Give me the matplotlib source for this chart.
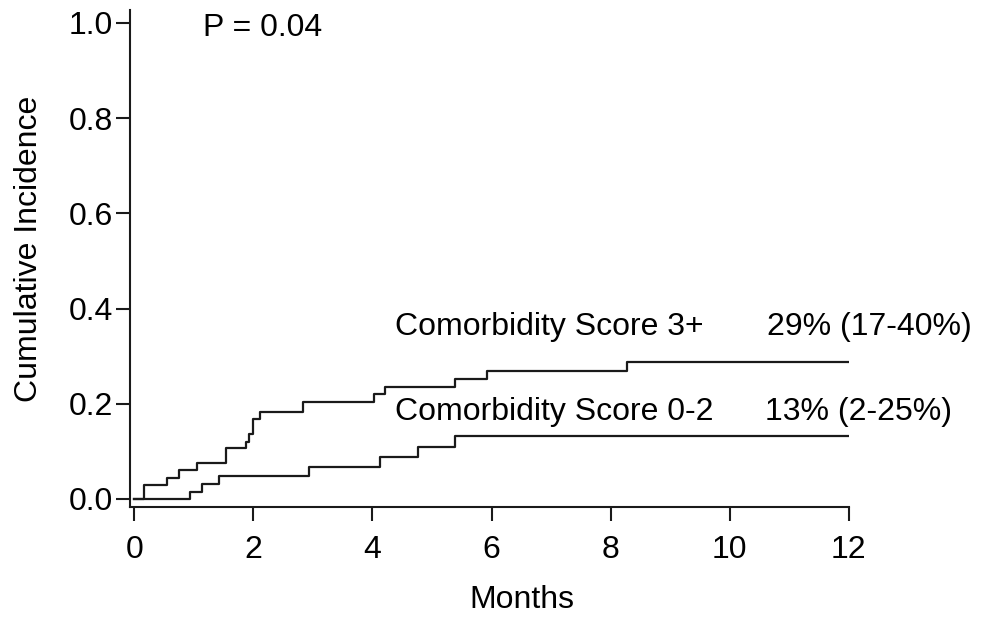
import matplotlib.pyplot as plt

plt.rcParams['font.family'] = ['Liberation Sans', 'DejaVu Sans']

# Comorbidity score 3+ : step times (months) and cumulative incidence
t_high = [0.0, 0.17, 0.55, 0.76, 1.05, 1.54, 1.87, 1.92, 1.99, 2.11, 2.84,
          4.02, 4.21, 5.39, 5.92, 8.28, 12.0]
ci_high = [0.0, 0.03, 0.043, 0.06, 0.076, 0.107, 0.12, 0.137, 0.167, 0.183,
           0.203, 0.22, 0.236, 0.251, 0.268, 0.287, 0.287]

# Comorbidity score 0-2
t_low = [0.0, 0.94, 1.14, 1.43, 2.94, 4.12, 4.77, 5.39, 12.0]
ci_low = [0.0, 0.015, 0.032, 0.048, 0.068, 0.089, 0.11, 0.132, 0.132]

x_ticks = [0, 2, 4, 6, 8, 10, 12]
y_ticks = [0.0, 0.2, 0.4, 0.6, 0.8, 1.0]

fig = plt.figure(figsize=(9.82, 6.18), dpi=100)
ax = fig.add_axes([0.1324, 0.1796, 0.732, 0.804])

ax.step(t_high, ci_high, where='post', color='#1a1a1a', linewidth=1.6)
ax.step(t_low, ci_low, where='post', color='#1a1a1a', linewidth=1.6)

fs = 23
ax.text(4.38, 0.361, 'Comorbidity Score 3+', fontsize=fs, va='center')
ax.text(10.62, 0.361, '29% (17-40%)', fontsize=fs, va='center')
ax.text(4.38, 0.183, 'Comorbidity Score 0-2', fontsize=fs, va='center')
ax.text(10.59, 0.183, '13% (2-25%)', fontsize=fs, va='center')
ax.text(1.16, 0.99, 'P = 0.04', fontsize=fs, va='center')

ax.set_xlim(-0.07, 12.0)
ax.set_ylim(-0.017, 1.027)
ax.set_xticks(x_ticks)
ax.set_yticks(y_ticks)
ax.set_yticklabels([f'{v:.1f}' for v in y_ticks])
ax.tick_params(labelsize=fs, width=1.5, length=10, color='#1a1a1a')
ax.tick_params(axis='x', pad=10)
ax.tick_params(axis='y', pad=2)

for side in ['top', 'right']:
    ax.spines[side].set_visible(False)
for side in ['left', 'bottom']:
    ax.spines[side].set_linewidth(1.5)
    ax.spines[side].set_color('#1a1a1a')

ax.set_xlabel('Months', fontsize=fs)
ax.set_ylabel('Cumulative Incidence', fontsize=fs)
ax.xaxis.set_label_coords(0.545, -0.157)
ax.yaxis.set_label_coords(-0.119, 0.52)

fig.savefig('out.png', dpi=100)
